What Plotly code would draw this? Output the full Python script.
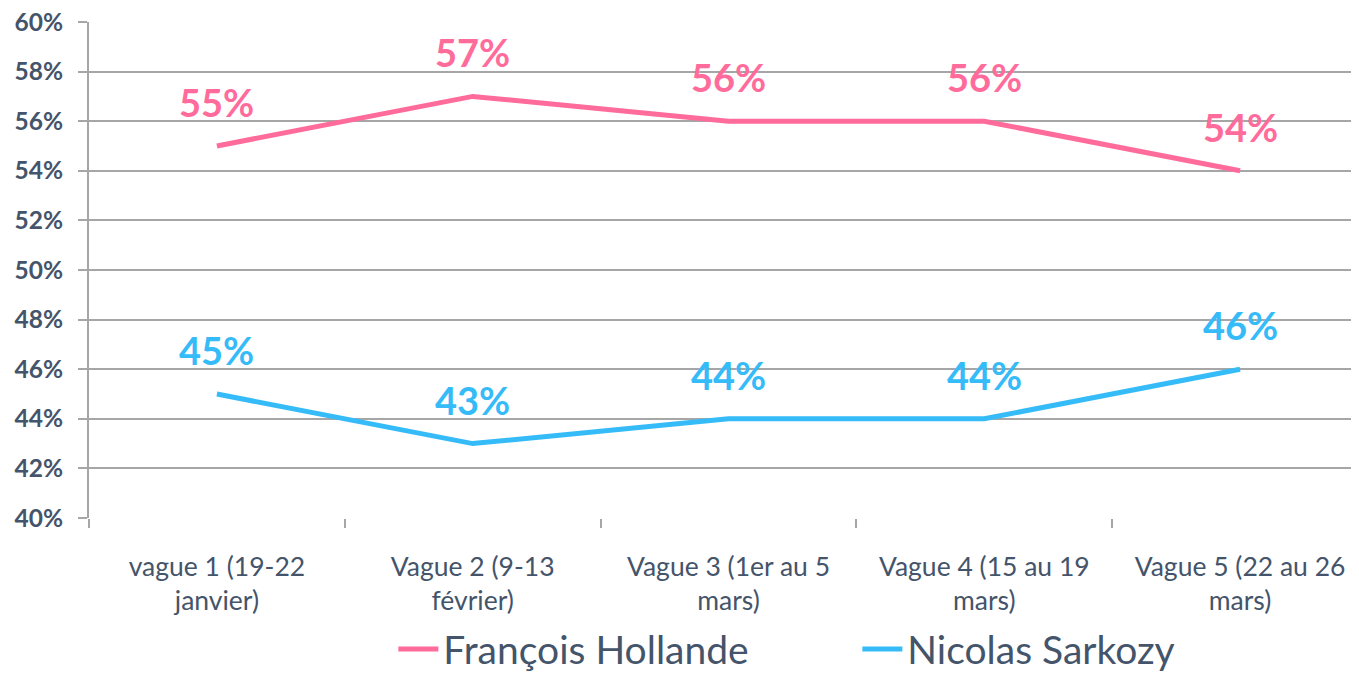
import plotly.graph_objects as go

categories = ["vague 1 (19-22<br>janvier)", "Vague 2 (9-13<br>février)", "Vague 3 (1er au 5<br>mars)",
              "Vague 4 (15 au 19<br>mars)", "Vague 5 (22 au 26<br>mars)"]
hollande = [55, 57, 56, 56, 54]
sarkozy = [45, 43, 44, 44, 46]
y_ticks = [40, 42, 44, 46, 48, 50, 52, 54, 56, 58, 60]
y_tick_labels = [f"{v}%" for v in y_ticks]

PINK = "#FF6B9B"
BLUE = "#36BBF9"
TEXT = "#44546A"
GRID = "#A6A6A6"
FONT = "Lato, Open Sans, sans-serif"

fig = go.Figure()
fig.add_trace(go.Scatter(x=categories, y=hollande, mode="lines", name="François Hollande",
                         line=dict(color=PINK, width=5)))
fig.add_trace(go.Scatter(x=categories, y=sarkozy, mode="lines", name="Nicolas Sarkozy",
                         line=dict(color=BLUE, width=5)))

for series, color in ((hollande, PINK), (sarkozy, BLUE)):
    for c, v in zip(categories, series):
        fig.add_annotation(x=c, y=v, text=f"{v}%", showarrow=False, yshift=44,
                           font=dict(family=FONT, size=38, color=color, weight="bold"))

# page body has an 8px default margin: compensate in the figure size/margins
fig.update_layout(
    width=1351, height=666,
    margin=dict(l=81, r=0, t=14, b=156, autoexpand=False),
    paper_bgcolor="white", plot_bgcolor="white",
    font=dict(family=FONT, color=TEXT),
    showlegend=True,
    legend=dict(orientation="h", x=0.605, xanchor="center", y=-0.2, yanchor="top",
                font=dict(size=39, color=TEXT), itemwidth=40, tracegroupgap=0,
                entrywidth=409, entrywidthmode="pixels"),
    xaxis=dict(type="category", range=[-0.5, 4.465], showgrid=False, showline=False,
               ticks="outside", tickson="boundaries", ticklen=9, tickwidth=2, tickcolor=GRID,
               tickfont=dict(size=26.5, color=TEXT), zeroline=False, automargin=False,
               ticklabelstandoff=30),
    yaxis=dict(range=[40, 60], tickvals=y_ticks, ticktext=y_tick_labels,
               showgrid=True, gridcolor=GRID, gridwidth=2,
               showline=True, linecolor=GRID, linewidth=2,
               ticks="outside", ticklen=9, tickwidth=2, tickcolor=GRID,
               tickfont=dict(size=24.5, color=TEXT, family=FONT, weight="bold"),
               ticklabeloverflow="allow",
               zeroline=False, fixedrange=True, automargin=False, ticklabelstandoff=10),
)
fig.write_html("out.html")
